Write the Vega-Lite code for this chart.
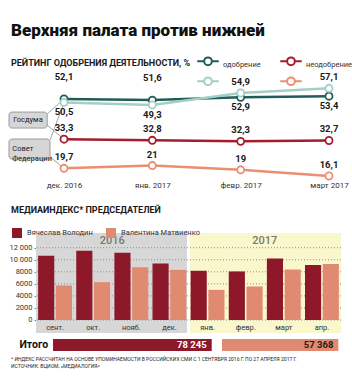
{
  "$schema": "https://vega.github.io/schema/vega-lite/v6.json",
  "background": "white",
  "padding": {"left": 8, "top": 21, "right": 5, "bottom": 5},
  "bounds": "flush",
  "spacing": 6,
  "resolve": {"scale": {"color": "independent", "fill": "independent"}, "legend": {"color": "independent", "fill": "independent"}},
  "config": {
    "font": "Roboto",
    "view": {"stroke": null},
    "locale": {"number": {"decimal": ",", "thousands": " ", "grouping": [3], "currency": ["", ""]}},
    "axis": {"labelFont": "Roboto", "labelColor": "#333333"},
    "legend": {"labelFont": "Roboto", "padding": 0},
    "title": {"font": "Roboto", "subtitleFont": "Roboto"}
  },
  "vconcat": [
    {
      "width": 308,
      "height": 178,
      "title": {"text": "\u00a0\u00a0Верхняя палата против нижней", "subtitle": "РЕЙТИНГ ОДОБРЕНИЯ ДЕЯТЕЛЬНОСТИ, %", "anchor": "start", "frame": "group", "dx": -25, "fontSize": 17, "fontWeight": 900, "color": "#111111", "subtitleFontSize": 9, "subtitleFontWeight": "bold", "subtitleColor": "#1a1a1a", "subtitlePadding": 19, "offset": -19.5},
      "data": {"values": [
        {"month": "дек. 2016", "i": 0, "series": "Госдума — одобрение", "v": 52.1},
        {"month": "янв. 2017", "i": 1, "series": "Госдума — одобрение", "v": 51.6},
        {"month": "февр. 2017", "i": 2, "series": "Госдума — одобрение", "v": 52.9},
        {"month": "март 2017", "i": 3, "series": "Госдума — одобрение", "v": 53.4},
        {"month": "дек. 2016", "i": 0, "series": "Госдума — неодобрение", "v": 33.3},
        {"month": "янв. 2017", "i": 1, "series": "Госдума — неодобрение", "v": 32.8},
        {"month": "февр. 2017", "i": 2, "series": "Госдума — неодобрение", "v": 32.3},
        {"month": "март 2017", "i": 3, "series": "Госдума — неодобрение", "v": 32.7},
        {"month": "дек. 2016", "i": 0, "series": "Совет Федерации — одобрение", "v": 50.5},
        {"month": "янв. 2017", "i": 1, "series": "Совет Федерации — одобрение", "v": 49.3},
        {"month": "февр. 2017", "i": 2, "series": "Совет Федерации — одобрение", "v": 54.9},
        {"month": "март 2017", "i": 3, "series": "Совет Федерации — одобрение", "v": 57.1},
        {"month": "дек. 2016", "i": 0, "series": "Совет Федерации — неодобрение", "v": 19.7},
        {"month": "янв. 2017", "i": 1, "series": "Совет Федерации — неодобрение", "v": 21},
        {"month": "февр. 2017", "i": 2, "series": "Совет Федерации — неодобрение", "v": 19},
        {"month": "март 2017", "i": 3, "series": "Совет Федерации — неодобрение", "v": 16.1}
      ]},
      "encoding": {
        "x": {"field": "i", "type": "quantitative", "scale": {"domain": [-0.317, 3.17], "nice": false, "zero": false},
          "axis": {"values": [0, 1, 2, 3], "labelExpr": "['дек. 2016','янв. 2017','февр. 2017','март 2017'][datum.value]", "title": null, "grid": false, "domain": false, "ticks": false, "offset": -49, "labelPadding": 3, "labelFontSize": 8, "labelFlush": false, "labelOverlap": false, "labelBound": false}},
        "y": {"field": "v", "type": "quantitative", "scale": {"domain": [-7.74, 75.47], "nice": false, "zero": false}, "axis": null}
      },
      "layer": [
        {"data": {"values": [
           {"from": "Госдума", "to": "Госдума — одобрение", "ax": -0.19, "ay": 45.1, "px": 0, "py": 52.1},
           {"from": "Госдума", "to": "Госдума — неодобрение", "ax": -0.19, "ay": 39.9, "px": 0, "py": 33.3},
           {"from": "Совет Федерации", "to": "Совет Федерации — одобрение", "ax": -0.158, "ay": 32.9, "px": 0, "py": 50.5},
           {"from": "Совет Федерации", "to": "Совет Федерации — неодобрение", "ax": -0.158, "ay": 25.0, "px": 0, "py": 19.7}
         ]},
         "mark": {"type": "rule", "color": "#8a8a8a", "strokeWidth": 0.8},
         "encoding": {"x": {"field": "ax", "type": "quantitative"}, "y": {"field": "ay", "type": "quantitative"}, "x2": {"field": "px"}, "y2": {"field": "py"}}},
        {"data": {"values": [
           {"name": "Госдума", "lines": ["Госдума"], "x0": -0.623, "x1": -0.19, "y0": 46.0, "y1": 38.5, "tx": -0.407, "ty": 42.3},
           {"name": "Совет Федерации", "lines": ["Совет", "Федерации"], "x0": -0.623, "x1": -0.158, "y0": 33.4, "y1": 24.0, "tx": -0.585, "ty": 28.7}
         ]},
         "layer": [
           {"mark": {"type": "rect", "fill": "#d6d6d6", "stroke": "#8a8a8a", "strokeWidth": 0.8, "cornerRadius": 3},
            "encoding": {"x": {"field": "x0", "type": "quantitative"}, "x2": {"field": "x1"}, "y": {"field": "y0", "type": "quantitative"}, "y2": {"field": "y1"}}},
           {"transform": [{"filter": "datum.name == 'Госдума'"}],
            "mark": {"type": "text", "fontSize": 7.5, "color": "#222222", "align": "center", "baseline": "middle"},
            "encoding": {"x": {"field": "tx", "type": "quantitative"}, "y": {"field": "ty", "type": "quantitative"}, "text": {"field": "lines"}}},
           {"transform": [{"filter": "datum.name != 'Госдума'"}],
            "mark": {"type": "text", "fontSize": 7.5, "color": "#222222", "align": "left", "baseline": "middle", "lineHeight": 10},
            "encoding": {"x": {"field": "tx", "type": "quantitative"}, "y": {"field": "ty", "type": "quantitative"}, "text": {"field": "lines"}}}
         ]},
        {"mark": {"type": "line", "strokeWidth": 2.5},
         "encoding": {"color": {"field": "series", "type": "nominal",
           "scale": {"domain": ["Госдума — одобрение", "Госдума — неодобрение", "Совет Федерации — одобрение", "Совет Федерации — неодобрение"], "range": ["#1f5d58", "#a51d2d", "#a3cfc8", "#ec8e71"]},
           "legend": {"orient": "none", "legendX": 160, "legendY": 0.25, "columns": 2, "direction": "horizontal", "title": null,
             "symbolType": "M-1,0L-0.36,0M0.36,0L1,0M0.36,0A0.36,0.36,0,1,1,-0.36,0A0.36,0.36,0,1,1,0.36,0",
             "symbolSize": 462, "symbolStrokeWidth": 2, "symbolFillColor": "white", "labelBaseline": "top", "labelFontSize": 7.5, "labelOffset": 3, "columnPadding": 15, "rowPadding": -10, "labelColor": "#333333",
             "labelExpr": "datum.label == 'Госдума — одобрение' ? 'одобрение' : datum.label == 'Госдума — неодобрение' ? 'неодобрение' : ''",
             "encode": {"symbols": {"update": {"fill": {"value": "white"}, "strokeWidth": {"value": 2}}}}}}}},
        {"mark": {"type": "point", "filled": false, "fill": "white", "size": 50, "strokeWidth": 1.8, "opacity": 1},
         "encoding": {"color": {"field": "series", "type": "nominal", "legend": null}}},
        {"transform": [{"filter": "datum.series == 'Госдума — одобрение' && datum.i < 2"}],
         "mark": {"type": "text", "dy": -22, "fontSize": 9.5, "fontWeight": "bold", "color": "#1a1a1a"},
         "encoding": {"text": {"field": "v", "type": "quantitative", "format": "~g"}}},
        {"transform": [{"filter": "(datum.series == 'Госдума — одобрение' && datum.i >= 2) || (datum.series == 'Совет Федерации — одобрение' && datum.i < 2)"}],
         "mark": {"type": "text", "dy": 10, "fontSize": 9.5, "fontWeight": "bold", "color": "#1a1a1a"},
         "encoding": {"text": {"field": "v", "type": "quantitative", "format": "~g"}}},
        {"transform": [{"filter": "(datum.series == 'Совет Федерации — одобрение' && datum.i >= 2) || datum.series == 'Госдума — неодобрение' || datum.series == 'Совет Федерации — неодобрение'"}],
         "mark": {"type": "text", "dy": -11, "fontSize": 9.5, "fontWeight": "bold", "color": "#1a1a1a"},
         "encoding": {"text": {"field": "v", "type": "quantitative", "format": "~g"}}}
      ]
    },
    {
      "width": 305,
      "height": 100,
      "title": {"text": "МЕДИАИНДЕКС* ПРЕДСЕДАТЕЛЕЙ", "anchor": "start", "frame": "group", "dx": -25, "fontSize": 9, "fontWeight": "bold", "color": "#1a1a1a", "offset": 6.5, "baseline": "alphabetic"},
      "data": {"values": [
        {"month": "сент.", "year": "2016", "who": "Вячеслав Володин", "val": 10660},
        {"month": "сент.", "year": "2016", "who": "Валентина Матвиенко", "val": 5730},
        {"month": "окт.", "year": "2016", "who": "Вячеслав Володин", "val": 11490},
        {"month": "окт.", "year": "2016", "who": "Валентина Матвиенко", "val": 6280},
        {"month": "нояб.", "year": "2016", "who": "Вячеслав Володин", "val": 11160},
        {"month": "нояб.", "year": "2016", "who": "Валентина Матвиенко", "val": 8770},
        {"month": "дек.", "year": "2016", "who": "Вячеслав Володин", "val": 9380},
        {"month": "дек.", "year": "2016", "who": "Валентина Матвиенко", "val": 8320},
        {"month": "янв.", "year": "2017", "who": "Вячеслав Володин", "val": 8170},
        {"month": "янв.", "year": "2017", "who": "Валентина Матвиенко", "val": 5000},
        {"month": "февр.", "year": "2017", "who": "Вячеслав Володин", "val": 8060},
        {"month": "февр.", "year": "2017", "who": "Валентина Матвиенко", "val": 5565},
        {"month": "март", "year": "2017", "who": "Вячеслав Володин", "val": 10210},
        {"month": "март", "year": "2017", "who": "Валентина Матвиенко", "val": 8390},
        {"month": "апр.", "year": "2017", "who": "Вячеслав Володин", "val": 9115},
        {"month": "апр.", "year": "2017", "who": "Валентина Матвиенко", "val": 9313}
      ]},
      "layer": [
        {"transform": [{"filter": "datum.year == '2016'"}],
         "mark": {"type": "rect", "color": "#d7d7d7"},
         "encoding": {
           "x": {"field": "month", "type": "nominal", "scale": {"domain": ["сент.", "окт.", "нояб.", "дек.", "янв.", "февр.", "март", "апр."], "paddingInner": 0, "paddingOuter": 0},
             "axis": {"title": null, "labelAngle": 0, "domain": false, "ticks": false, "offset": -13, "labelPadding": 3, "labelFontSize": 7.5}},
           "y": {"datum": 14440, "type": "quantitative", "scale": {"domain": [-2158, 14440], "nice": false},
             "axis": {"values": [0, 2000, 4000, 6000, 8000, 10000, 12000], "labelExpr": "datum.value >= 10000 ? format(datum.value, ',d') : format(datum.value, 'd')", "title": null, "domain": false, "grid": false, "ticks": true, "tickSize": 2, "tickColor": "#888888", "labelPadding": 2, "labelFontSize": 7.5, "labelOverlap": false, "labelFlush": false, "labelBound": false}},
           "y2": {"datum": -2158}}},
        {"transform": [{"filter": "datum.year == '2017'"}],
         "mark": {"type": "rect", "color": "#fbf7cc"},
         "encoding": {"x": {"field": "month", "type": "nominal"},
           "y": {"datum": 14440, "type": "quantitative",
             "axis": {"values": [0, 2000, 4000, 6000, 8000, 10000, 12000], "labelExpr": "datum.value >= 10000 ? format(datum.value, ',d') : format(datum.value, 'd')", "title": null, "domain": false, "grid": false, "ticks": true, "tickSize": 2, "tickColor": "#888888", "labelPadding": 2, "labelFontSize": 7.5, "labelOverlap": false, "labelFlush": false, "labelBound": false}},
           "y2": {"datum": -2158}}},
        {"transform": [{"filter": "datum.month == 'янв.' && datum.who == 'Вячеслав Володин'"}],
         "mark": {"type": "rule", "color": "white", "strokeWidth": 3},
         "encoding": {"x": {"field": "month", "type": "nominal", "bandPosition": 0}}},
        {"data": {"values": [{"g": 0}, {"g": 2000}, {"g": 4000}, {"g": 6000}, {"g": 8000}, {"g": 10000}, {"g": 12000}]},
         "mark": {"type": "rule", "color": "#8f8f8f", "strokeWidth": 1, "strokeDash": [1, 2]},
         "encoding": {"y": {"field": "g", "type": "quantitative",
           "axis": {"values": [0, 2000, 4000, 6000, 8000, 10000, 12000], "labelExpr": "datum.value >= 10000 ? format(datum.value, ',d') : format(datum.value, 'd')", "title": null, "domain": false, "grid": false, "ticks": true, "tickSize": 2, "tickColor": "#888888", "labelPadding": 2, "labelFontSize": 7.5, "labelOverlap": false, "labelFlush": false, "labelBound": false}}}},
        {"transform": [{"filter": "(datum.month == 'нояб.' || datum.month == 'март') && datum.who == 'Вячеслав Володин'"}],
         "mark": {"type": "text", "fontSize": 11, "color": "#777777", "fontWeight": 500},
         "encoding": {"x": {"field": "month", "type": "nominal", "bandPosition": 0},
           "y": {"datum": 13100, "type": "quantitative",
             "axis": {"values": [0, 2000, 4000, 6000, 8000, 10000, 12000], "labelExpr": "datum.value >= 10000 ? format(datum.value, ',d') : format(datum.value, 'd')", "title": null, "domain": false, "grid": false, "ticks": true, "tickSize": 2, "tickColor": "#888888", "labelPadding": 2, "labelFontSize": 7.5, "labelOverlap": false, "labelFlush": false, "labelBound": false}},
           "text": {"field": "year"}}},
        {"mark": {"type": "bar"},
         "encoding": {
           "x": {"field": "month", "type": "nominal"},
           "xOffset": {"field": "who", "type": "nominal", "scale": {"domain": ["Вячеслав Володин", "Валентина Матвиенко"], "paddingInner": 0.09, "paddingOuter": 0.12}},
           "y": {"field": "val", "type": "quantitative",
             "axis": {"values": [0, 2000, 4000, 6000, 8000, 10000, 12000], "labelExpr": "datum.value >= 10000 ? format(datum.value, ',d') : format(datum.value, 'd')", "title": null, "domain": false, "grid": false, "ticks": true, "tickSize": 2, "tickColor": "#888888", "labelPadding": 2, "labelFontSize": 7.5, "labelOverlap": false, "labelFlush": false, "labelBound": false}},
           "color": {"field": "who", "type": "nominal", "scale": {"domain": ["Вячеслав Володин", "Валентина Матвиенко"], "range": ["#8c1829", "#e08a71"]},
             "legend": {"orient": "none", "legendX": -24, "legendY": -5, "direction": "horizontal", "title": null, "symbolType": "square", "symbolSize": 100, "symbolStrokeWidth": 0, "labelFontSize": 7.5, "labelOffset": 5, "columnPadding": 13, "labelColor": "#333333"}}}}
      ]
    },
    {
      "width": 305,
      "height": 12,
      "title": {"text": ["* ИНДЕКС РАССЧИТАН НА ОСНОВЕ УПОМИНАЕМОСТИ В РОССИЙСКИХ СМИ С 1 СЕНТЯБРЯ 2016 Г. ПО 27 АПРЕЛЯ 2017 Г.", "ИСТОЧНИК: ВЦИОМ, «МЕДИАЛОГИЯ»"], "orient": "bottom", "anchor": "start", "frame": "group", "dx": -25, "fontSize": 5, "fontWeight": "normal", "offset": 6, "lineHeight": 7.3, "color": "#222222"},
      "data": {"values": [
        {"label": "Итого", "who": "Вячеслав Володин", "total": 78245},
        {"label": "Итого", "who": "Валентина Матвиенко", "total": 57368}
      ]},
      "encoding": {
        "y": {"field": "label", "type": "nominal", "scale": {"paddingInner": 0, "paddingOuter": 0},
          "axis": {"title": null, "domain": false, "ticks": false, "labelAlign": "left", "labelPadding": 17, "labelFontSize": 10.5, "labelFontWeight": "bold", "labelColor": "#111111"}}
      },
      "layer": [
        {"transform": [{"filter": "datum.who == 'Вячеслав Володин'"}],
         "encoding": {"x": {"field": "total", "type": "quantitative", "scale": {"domain": [-8400, 141995], "nice": false}, "axis": null}},
         "layer": [
           {"mark": {"type": "bar", "color": "#8c1829"}},
           {"mark": {"type": "text", "align": "right", "dx": -5, "color": "white", "fontWeight": "bold", "fontSize": 9.5},
            "encoding": {"text": {"field": "total", "type": "quantitative", "format": ",d"}}}
         ]},
        {"transform": [{"filter": "datum.who == 'Валентина Матвиенко'"}],
         "encoding": {"x": {"field": "total", "type": "quantitative", "scale": {"domain": [-91716, 58679], "nice": false}, "axis": null}},
         "layer": [
           {"mark": {"type": "bar", "color": "#e08a71"}},
           {"mark": {"type": "text", "align": "right", "dx": -5, "color": "#2a1a1a", "fontWeight": "bold", "fontSize": 9.5},
            "encoding": {"text": {"field": "total", "type": "quantitative", "format": ",d"}}}
         ]}
      ],
      "resolve": {"scale": {"x": "independent"}}
    }
  ]
}
